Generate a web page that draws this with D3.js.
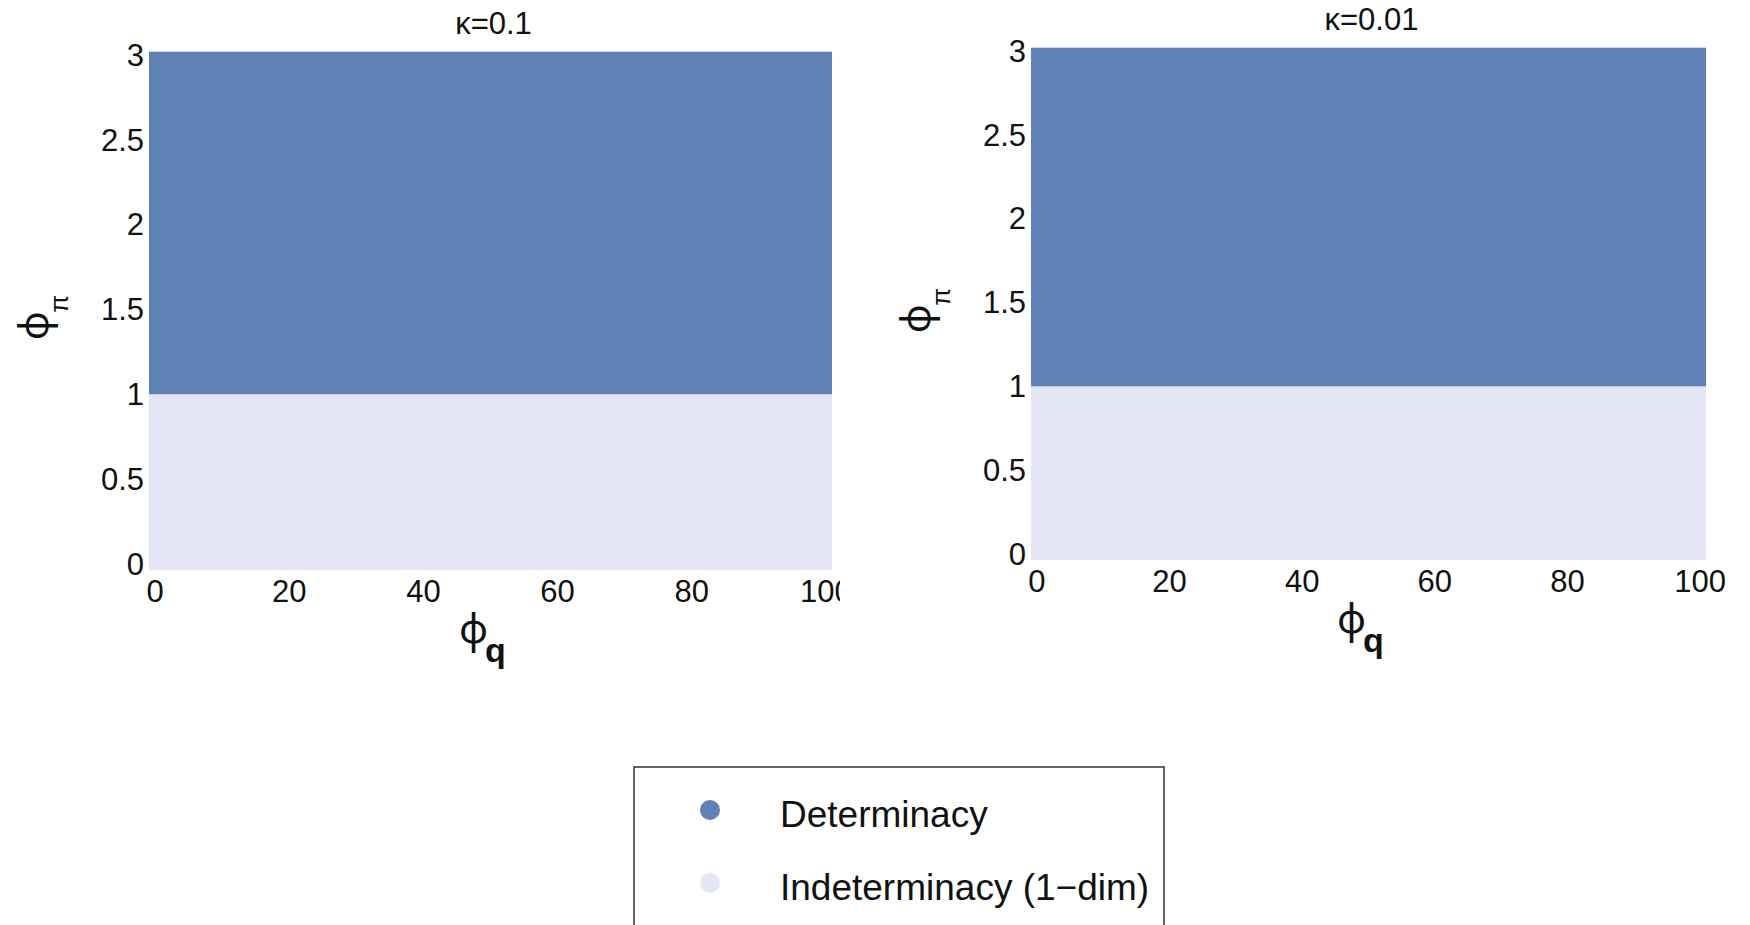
<!DOCTYPE html>
<html>
<head>
<meta charset="utf-8">
<script src="https://cdn.jsdelivr.net/npm/d3@7"></script>
<style>
  body { margin: 0; background: #fff; }
  text { font-family: "Liberation Sans", Arial, sans-serif; fill: #111; }
</style>
</head>
<body>
<div id="chart"></div>
<script>
// data
const panelTitles = ["κ=0.1", "κ=0.01"];
const boundary = [1, 1];                 // φπ threshold in each panel
const xRange = [-0.9, 100.9];            // plot range φq
const yRange = [-0.035, 3.022];          // plot range φπ
const xTicks = [0, 20, 40, 60, 80, 100];
const yTicks = [0, 0.5, 1, 1.5, 2, 2.5, 3];
const yTickLabels = ["0", "0.5", "1", "1.5", "2", "2.5", "3"];
const regionNames = ["Determinacy", "Indeterminacy (1\u2212dim)"];
const regionColors = ["#5f81b5", "#e4e6f6"];

// panel frames (pixels)
const frames = [
  { left: 149, right: 832, top: 51.7, bottom: 570, clip: 840 },
  { left: 1031, right: 1706, top: 47.7, bottom: 560, clip: 1750 }
];

const svg = d3.select('#chart').append('svg')
  .attr('width', 1750)
  .attr('height', 925);

frames.forEach((f, i) => {
  const x = d3.scaleLinear().domain(xRange).range([f.left, f.right]);
  const y = d3.scaleLinear().domain(yRange).range([f.bottom, f.top]);

  svg.append('clipPath').attr('id', 'clip' + i)
    .append('rect').attr('x', 0).attr('y', 0).attr('width', f.clip).attr('height', 925);

  const g = svg.append('g').attr('clip-path', `url(#clip${i})`);

  // regions: determinacy above threshold, indeterminacy below
  const regions = [
    { name: regionNames[0], y0: boundary[i], y1: yRange[1], color: regionColors[0] },
    { name: regionNames[1], y0: yRange[0], y1: boundary[i], color: regionColors[1] }
  ];
  g.selectAll('rect.region')
    .data(regions)
    .enter().append('rect')
    .attr('class', 'region')
    .attr('x', x(xRange[0]))
    .attr('width', x(xRange[1]) - x(xRange[0]))
    .attr('y', d => y(d.y1))
    .attr('height', d => y(d.y0) - y(d.y1))
    .attr('fill', d => d.color);

  // y tick labels
  g.selectAll('text.ytick')
    .data(yTicks)
    .enter().append('text')
    .attr('x', f.left - 5)
    .attr('y', d => y(d))
    .attr('text-anchor', 'end')
    .attr('dominant-baseline', 'central')
    .style('font-size', '31px')
    .text((d, j) => yTickLabels[j]);

  // x tick labels
  g.selectAll('text.xtick')
    .data(xTicks)
    .enter().append('text')
    .attr('x', d => x(d))
    .attr('y', f.bottom + 21)
    .attr('text-anchor', 'middle')
    .attr('dominant-baseline', 'central')
    .style('font-size', '31px')
    .text(d => d);

  const mid = (f.left + f.right) / 2;

  // title
  g.append('text')
    .attr('x', mid + 3)
    .attr('y', f.top - 18)
    .attr('text-anchor', 'middle')
    .style('font-size', '31px')
    .text(panelTitles[i]);

  // x axis label
  g.append('text')
    .attr('x', mid - 17)
    .attr('y', f.bottom + 57)
    .attr('text-anchor', 'middle')
    .attr('dominant-baseline', 'central')
    .style('font-family', '"Noto Sans"')
    .style('font-size', '40px')
    .text('ϕ');
  g.append('text')
    .attr('x', mid + 5)
    .attr('y', f.bottom + 92)
    .attr('text-anchor', 'middle')
    .style('font-size', '34px')
    .style('font-weight', 'bold')
    .text('q');

  // y axis label
  const yl = g.append('g')
    .attr('transform', `translate(${f.left - 117},${(f.top + f.bottom) / 2 + 15}) rotate(-90)`);
  yl.append('text')
    .attr('text-anchor', 'middle')
    .attr('dominant-baseline', 'central')
    .style('font-family', '"Noto Sans"')
    .style('font-size', '40px')
    .text('ϕ');
  yl.append('text')
    .attr('x', 22)
    .attr('y', 27)
    .attr('text-anchor', 'middle')
    .attr('dominant-baseline', 'central')
    .style('font-size', '26px')
    .text('π');
});

// legend
const legend = svg.append('g');
legend.append('rect')
  .attr('x', 634).attr('y', 767)
  .attr('width', 530).attr('height', 220)
  .attr('fill', 'none')
  .attr('stroke', '#333')
  .attr('stroke-width', 1.5);

const items = legend.selectAll('g.item')
  .data(regionNames)
  .enter().append('g')
  .attr('transform', (d, i) => `translate(710,${810 + i * 73})`);
items.append('circle')
  .attr('r', 10)
  .attr('fill', (d, i) => regionColors[i]);
items.append('text')
  .attr('x', 70)
  .attr('y', 4)
  .attr('dominant-baseline', 'central')
  .style('font-size', '37px')
  .text(d => d);
</script>
</body>
</html>
